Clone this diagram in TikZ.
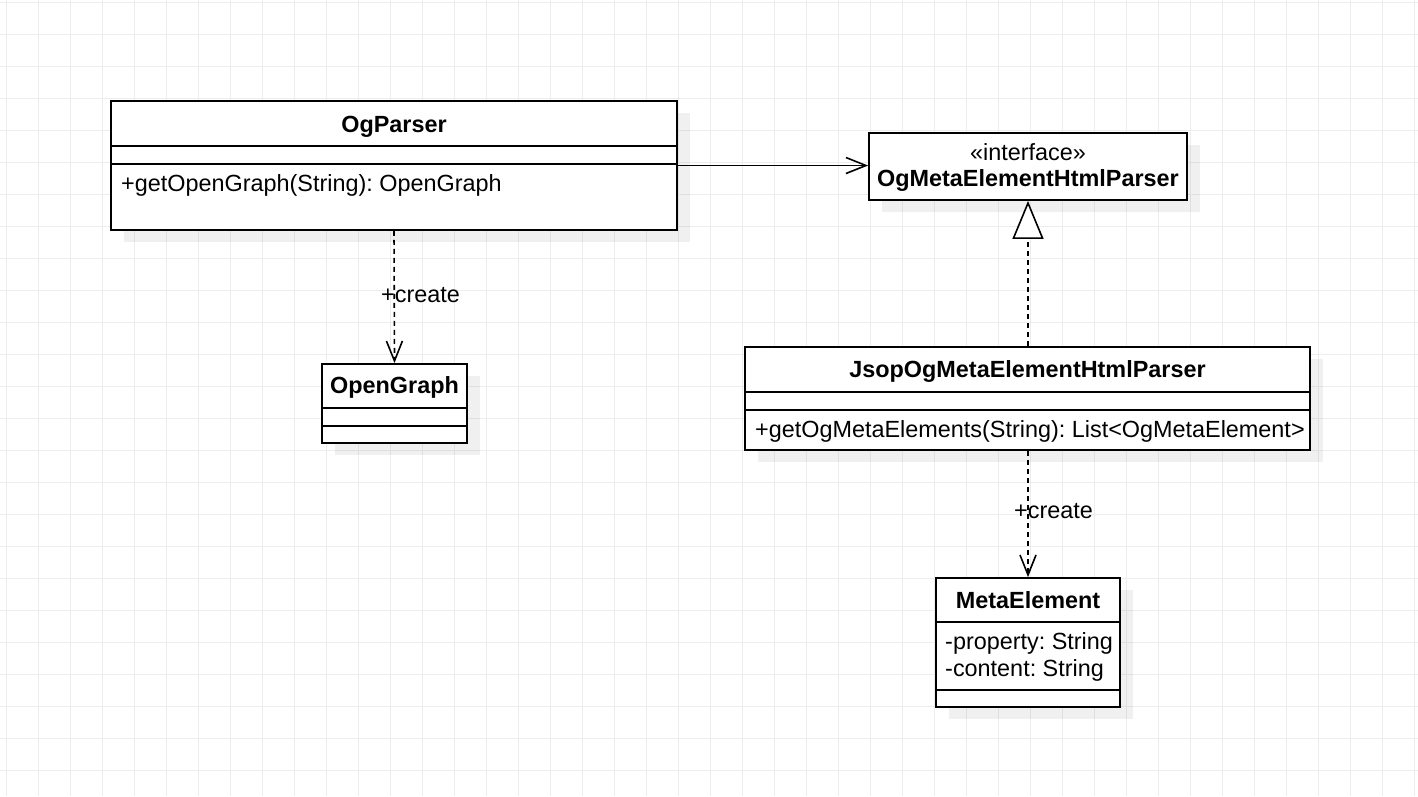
\documentclass[tikz,border=0pt]{standalone}
\usepackage{fontspec}
\setmainfont{Liberation Sans}
\usetikzlibrary{arrows.meta,shadows}
\frenchspacing
\begin{document}
\begin{tikzpicture}[x=1pt,y=-1pt,
  gridline/.style={draw=black!7, line width=1pt},
  cls/.style={draw=black, line width=1.8pt, fill=white, inner sep=0pt,
    drop shadow={shadow xshift=13pt, shadow yshift=-12pt, fill=black, opacity=0.06}},
  sepline/.style={draw=black, line width=1.8pt},
  txt/.style={inner sep=0pt, font=\fontsize{23.4}{27}\selectfont},
  btxt/.style={txt, font=\fontsize{23.4}{27}\selectfont\bfseries},
  assoc/.style={draw=black, line width=1.6pt, -{Straight Barb[length=20pt,width=16pt,line width=1.6pt]}},
  dep/.style={draw=black, line width=1.6pt, dash pattern=on 5pt off 4pt, -{Straight Barb[length=20pt,width=16pt,line width=1.6pt]}},
  real/.style={draw=black, line width=1.6pt, dash pattern=on 5pt off 4pt, -{Triangle[open,fill=white,length=38pt,width=31pt,line width=1.6pt]}}
]
\useasboundingbox (0,0) rectangle (1418,796);
\fill[white] (0,0) rectangle (1418,796);
\foreach \i in {0,...,44} \draw[gridline] ({6+32*\i},0) -- ({6+32*\i},796);
\foreach \j in {0,...,24} \draw[gridline] (0,{2+32*\j}) -- (1418,{2+32*\j});

% classes
\node[cls, minimum width=566pt, minimum height=129pt] (ogp) at (394,165.5) {};
\node[cls, minimum width=318pt, minimum height=67pt] (iface) at (1028,166.5) {};
\node[cls, minimum width=145pt, minimum height=79pt] (og) at (394.5,403.5) {};
\node[cls, minimum width=565pt, minimum height=103pt] (jsop) at (1027.5,398.5) {};
\node[cls, minimum width=184pt, minimum height=129pt] (meta) at (1028,642.5) {};

% separators
\draw[sepline] (ogp.west |- 0,146) -- (ogp.east |- 0,146);
\draw[sepline] (ogp.west |- 0,164) -- (ogp.east |- 0,164);
\draw[sepline] (og.west |- 0,408) -- (og.east |- 0,408);
\draw[sepline] (og.west |- 0,426) -- (og.east |- 0,426);
\draw[sepline] (jsop.west |- 0,392) -- (jsop.east |- 0,392);
\draw[sepline] (jsop.west |- 0,410) -- (jsop.east |- 0,410);
\draw[sepline] (meta.west |- 0,622) -- (meta.east |- 0,622);
\draw[sepline] (meta.west |- 0,690) -- (meta.east |- 0,690);

% texts
\node[btxt, anchor=base] (ogpT) at (394,132) {OgParser};
\node[txt, anchor=base west] (ogpM) at (121,191) {+getOpenGraph(String): OpenGraph};
\node[txt, anchor=base] (ifaceS) at (1028,160) {«interface»};
\node[btxt, anchor=base] (ifaceT) at (1028,186) {OgMetaElementHtmlParser};
\node[btxt, anchor=base] (ogT) at (394.5,393) {OpenGraph};
\node[btxt, anchor=base] (jsopT) at (1027.5,377) {JsopOgMetaElementHtmlParser};
\node[txt, anchor=base west] (jsopM) at (755,437) {+getOgMetaElements(String): List<OgMetaElement>};
\node[btxt, anchor=base] (metaT) at (1028,608) {MetaElement};
\node[txt, anchor=base west] (metaA1) at (945,649) {-property: String};
\node[txt, anchor=base west] (metaA2) at (945,676) {-content: String};

% connectors
\draw[assoc] (ogp.east) -- (ogp.east -| iface.west);
\draw[real] (jsop.north -| iface.south) -- (iface.south);
\draw[dep] (ogp.south) -- (og.north);
\draw[dep] (jsop.south -| meta.north) -- (meta.north);

% labels
\node[txt, anchor=base west] (lbl1) at (381,302) {+create};
\node[txt, anchor=base west] (lbl2) at (1014,518) {+create};
\end{tikzpicture}
\end{document}
